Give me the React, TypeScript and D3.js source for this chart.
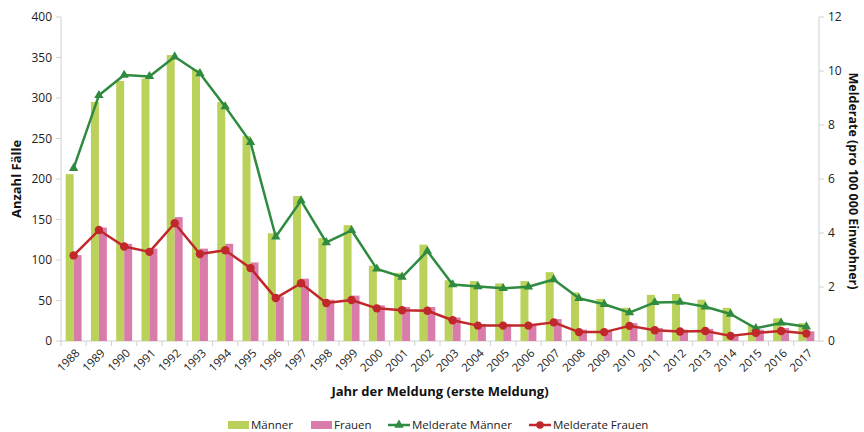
import React from "react";
import * as d3 from "d3";

const years = ["1988","1989","1990","1991","1992","1993","1994","1995","1996","1997","1998","1999","2000","2001","2002","2003","2004","2005","2006","2007","2008","2009","2010","2011","2012","2013","2014","2015","2016","2017"];
const maenner = [206,295,321,324,353,335,295,253,133,179,127,143,93,84,119,75,74,71,74,85,60,52,41,57,58,51,41,19,28,22];
const frauen = [106,140,120,114,153,114,120,97,55,77,51,56,44,42,42,29,21,21,19,27,14,13,22,16,14,15,8,14,16,12];
const rateMaenner = [6.4,9.1,9.85,9.8,10.53,9.91,8.68,7.36,3.86,5.2,3.65,4.1,2.67,2.37,3.33,2.09,2.02,1.95,2.01,2.28,1.58,1.36,1.05,1.43,1.44,1.27,1.0,0.47,0.67,0.53];
const rateFrauen = [3.17,4.11,3.5,3.3,4.36,3.22,3.36,2.7,1.59,2.14,1.41,1.52,1.21,1.14,1.12,0.77,0.57,0.57,0.57,0.69,0.33,0.33,0.56,0.4,0.35,0.37,0.19,0.3,0.37,0.28];
const leftTicks = [0,50,100,150,200,250,300,350,400];
const rightTicks = [0,2,4,6,8,10,12];

const W = 864, H = 432;
const M = { left: 61, right: 819, top: 17, bottom: 341 };
const FONT = "'Open Sans', 'Liberation Sans', sans-serif";
const C_M = "#bad15a";
const C_F = "#d97ca9";
const C_LM = "#2e8b3f";
const C_LF = "#c0282b";
const AX = "#d0d0d0";

export default function App() {
  const x = d3.scaleBand<string>().domain(years).range([M.left, M.right]).paddingInner(0.37).paddingOuter(0.185);
  const xc = (i: number) => (x(years[i]) as number) + x.bandwidth() / 2;
  const yL = d3.scaleLinear().domain([0, 400]).range([M.bottom, M.top]);
  const yR = d3.scaleLinear().domain([0, 12]).range([M.bottom, M.top]);
  const bw = x.bandwidth() / 2;
  const lineM = d3.line<number>().x((_, i) => xc(i)).y((d) => yR(d));
  const tri = d3.symbol().type(d3.symbolTriangle).size(38)();

  const band = d3.scaleBand<string>().domain(years).range([M.left, M.right]);
  return (
    <svg width={W} height={H} style={{ position: "absolute", left: 0, top: 0, background: "#fff" }} fontFamily={FONT}>
      {/* axes */}
      <line x1={M.left} x2={M.left} y1={M.top} y2={M.bottom} stroke={AX} />
      <line x1={M.right} x2={M.right} y1={M.top} y2={M.bottom} stroke={AX} />
      <line x1={M.left} x2={M.right} y1={M.bottom} y2={M.bottom} stroke={AX} />
      {leftTicks.map((t) => (
        <g key={"l" + t}>
          <line x1={M.left - 5} x2={M.left} y1={yL(t)} y2={yL(t)} stroke={AX} />
          <text x={M.left - 9} y={yL(t)} dy="0.35em" textAnchor="end" fontSize={12} fill="#222">{t}</text>
        </g>
      ))}
      {rightTicks.map((t) => (
        <g key={"r" + t}>
          <line x1={M.right} x2={M.right + 5} y1={yR(t)} y2={yR(t)} stroke={AX} />
          <text x={M.right + 9} y={yR(t)} dy="0.35em" textAnchor="start" fontSize={12} fill="#222">{t}</text>
        </g>
      ))}
      {years.map((yr) => (
        <line key={"t" + yr} x1={band(yr) as number} x2={band(yr) as number} y1={M.bottom} y2={M.bottom + 5} stroke={AX} />
      ))}
      {/* bars */}
      {maenner.map((v, i) => (
        <rect key={"m" + i} x={x(years[i]) as number} y={yL(v)} width={bw} height={M.bottom - yL(v)} fill={C_M} />
      ))}
      {frauen.map((v, i) => (
        <rect key={"f" + i} x={(x(years[i]) as number) + bw} y={yL(v)} width={bw} height={M.bottom - yL(v)} fill={C_F} />
      ))}
      {/* lines */}
      <path d={lineM(rateMaenner) || ""} fill="none" stroke={C_LM} strokeWidth={2.5} strokeLinejoin="round" />
      {rateMaenner.map((v, i) => (
        <path key={"tm" + i} d={tri || ""} transform={`translate(${xc(i)},${yR(v)})`} fill={C_LM} />
      ))}
      <path d={lineM(rateFrauen) || ""} fill="none" stroke={C_LF} strokeWidth={2.5} strokeLinejoin="round" />
      {rateFrauen.map((v, i) => (
        <circle key={"cf" + i} cx={xc(i)} cy={yR(v)} r={4.2} fill={C_LF} />
      ))}
      {/* x tick labels */}
      {years.map((yr, i) => (
        <text key={"xl" + yr} transform={`translate(${xc(i) + 4},${M.bottom + 10}) rotate(-45)`} textAnchor="end" dy="0.35em" fontSize={11.5} fill="#222">{yr}</text>
      ))}
      {/* axis titles */}
      <text transform={`translate(21,${(M.top + M.bottom) / 2}) rotate(-90)`} textAnchor="middle" fontSize={13} fontWeight="bold" fill="#111">Anzahl Fälle</text>
      <text transform={`translate(849,${(M.top + M.bottom) / 2 + 2}) rotate(90)`} textAnchor="middle" fontSize={12.5} fontWeight="bold" fill="#111">Melderate (pro 100 000 Einwohner)</text>
      <text x={(M.left + M.right) / 2} y={396} textAnchor="middle" fontSize={13} fontWeight="bold" fill="#111">Jahr der Meldung (erste Meldung)</text>
      {/* legend */}
      <rect x={228} y={421} width={21} height={8} fill={C_M} />
      <text x={251} y={425} dy="0.35em" fontSize={11.5} fill="#222">Männer</text>
      <rect x={311} y={421} width={21} height={8} fill={C_F} />
      <text x={334} y={425} dy="0.35em" fontSize={11.5} fill="#222">Frauen</text>
      <line x1={388} x2={410} y1={425} y2={425} stroke={C_LM} strokeWidth={2.5} />
      <path d={tri || ""} transform="translate(399,425)" fill={C_LM} />
      <text x={412} y={425} dy="0.35em" fontSize={11.5} fill="#222">Melderate Männer</text>
      <line x1={529} x2={551} y1={425} y2={425} stroke={C_LF} strokeWidth={2.5} />
      <circle cx={540} cy={425} r={3.8} fill={C_LF} />
      <text x={553} y={425} dy="0.35em" fontSize={11.5} fill="#222">Melderate Frauen</text>
    </svg>
  );
}
